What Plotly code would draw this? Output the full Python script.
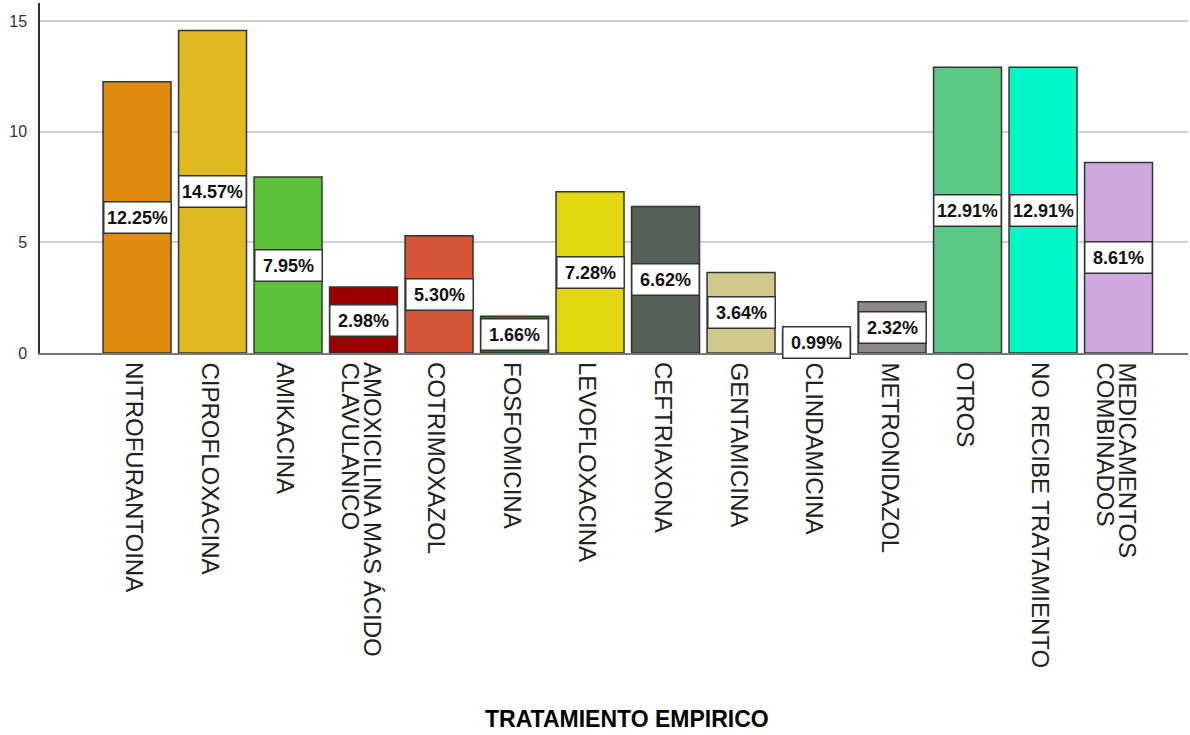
import plotly.graph_objects as go

categories = [
    "NITROFURANTOINA", "CIPROFLOXACINA", "AMIKACINA",
    "AMOXICILINA MAS ÁCIDO\nCLAVULANICO", "COTRIMOXAZOL", "FOSFOMICINA",
    "LEVOFLOXACINA", "CEFTRIAXONA", "GENTAMICINA", "CLINDAMICINA",
    "METRONIDAZOL", "OTROS", "NO RECIBE TRATAMIENTO", "MEDICAMENTOS\nCOMBINADOS",
]
values = [12.25, 14.57, 7.95, 2.98, 5.30, 1.66, 7.28, 6.62, 3.64, 0.99, 2.32, 12.91, 12.91, 8.61]
colors = [
    "#E08A10", "#E0B820", "#5CC238", "#9B0000", "#D45535", "#1F7F1F",
    "#E2D610", "#566058", "#CFC98C", "#F5B8D8", "#8C8888", "#5CC888",
    "#00F8C8", "#D0A8E0",
]
y_ticks = [0, 5, 10, 15]
x_title = "TRATAMIENTO EMPIRICO"

W, H = 1190, 735
ml, mr, mt, mb = 40, 2, 3, 382
plot_h = H - mt - mb

fig = go.Figure()
fig.add_trace(go.Bar(
    x=list(range(len(categories))),
    y=values,
    marker=dict(color=colors, line=dict(color="#333333", width=1.5)),
    hoverinfo="skip",
))

annotations = []
# value labels at bar mid-height
for i, v in enumerate(values):
    annotations.append(dict(
        x=i, y=v / 2, xref="x", yref="y",
        text=f"<b>{v:.2f}%</b>", showarrow=False,
        font=dict(family="Liberation Sans, Arial", size=18, color="#111111"),
        bgcolor="white", bordercolor="#333333", borderwidth=1.5, borderpad=3,
        width=60, height=24, align="center", valign="middle",
        xanchor="center", yanchor="middle",
    ))

# rotated category labels
label_top_px = 361
y_lab = -(label_top_px - (mt + plot_h)) / plot_h
for i, cat in enumerate(categories):
    lines = cat.split("\n")
    shifts = [-2] if len(lines) == 1 else [9, -13]
    for line, sh in zip(lines, shifts):
        annotations.append(dict(
            x=i, y=y_lab, xref="x", yref="paper",
            text=line, showarrow=False, textangle=90,
            font=dict(family="Liberation Sans, Arial", size=24, color="#222222"),
            xanchor="center", yanchor="top", xshift=sh,
            borderpad=0,
        ))

# axis title
title_x_px, title_y_px = 627, 719
annotations.append(dict(
    x=(title_x_px - ml) / (W - ml - mr), y=-(title_y_px - (mt + plot_h)) / plot_h,
    xref="paper", yref="paper", text=f"<b>{x_title}</b>", showarrow=False,
    font=dict(family="Liberation Sans, Arial", size=23, color="#000000"),
    xanchor="center", yanchor="middle",
))

fig.update_layout(
    width=W, height=H,
    margin=dict(l=ml, r=mr, t=mt, b=mb),
    paper_bgcolor="white", plot_bgcolor="white",
    bargap=0.1, showlegend=False,
    annotations=annotations,
    xaxis=dict(
        range=[-1.285, 13.92], showticklabels=False, showgrid=False,
        zeroline=False, showline=True, linecolor="#777777", linewidth=2,
        ticks="", fixedrange=True,
    ),
    yaxis=dict(
        range=[0, 15.81], tickvals=y_ticks, ticktext=[str(t) for t in y_ticks],
        showgrid=True, gridcolor="#D0D0D0", gridwidth=1.5,
        zeroline=False, showline=True, linecolor="#333333", linewidth=1.5,
        ticks="", ticklabelstandoff=8,
        tickfont=dict(family="Liberation Sans, Arial", size=16, color="#333333"),
    ),
)

fig.write_html("out.html")
